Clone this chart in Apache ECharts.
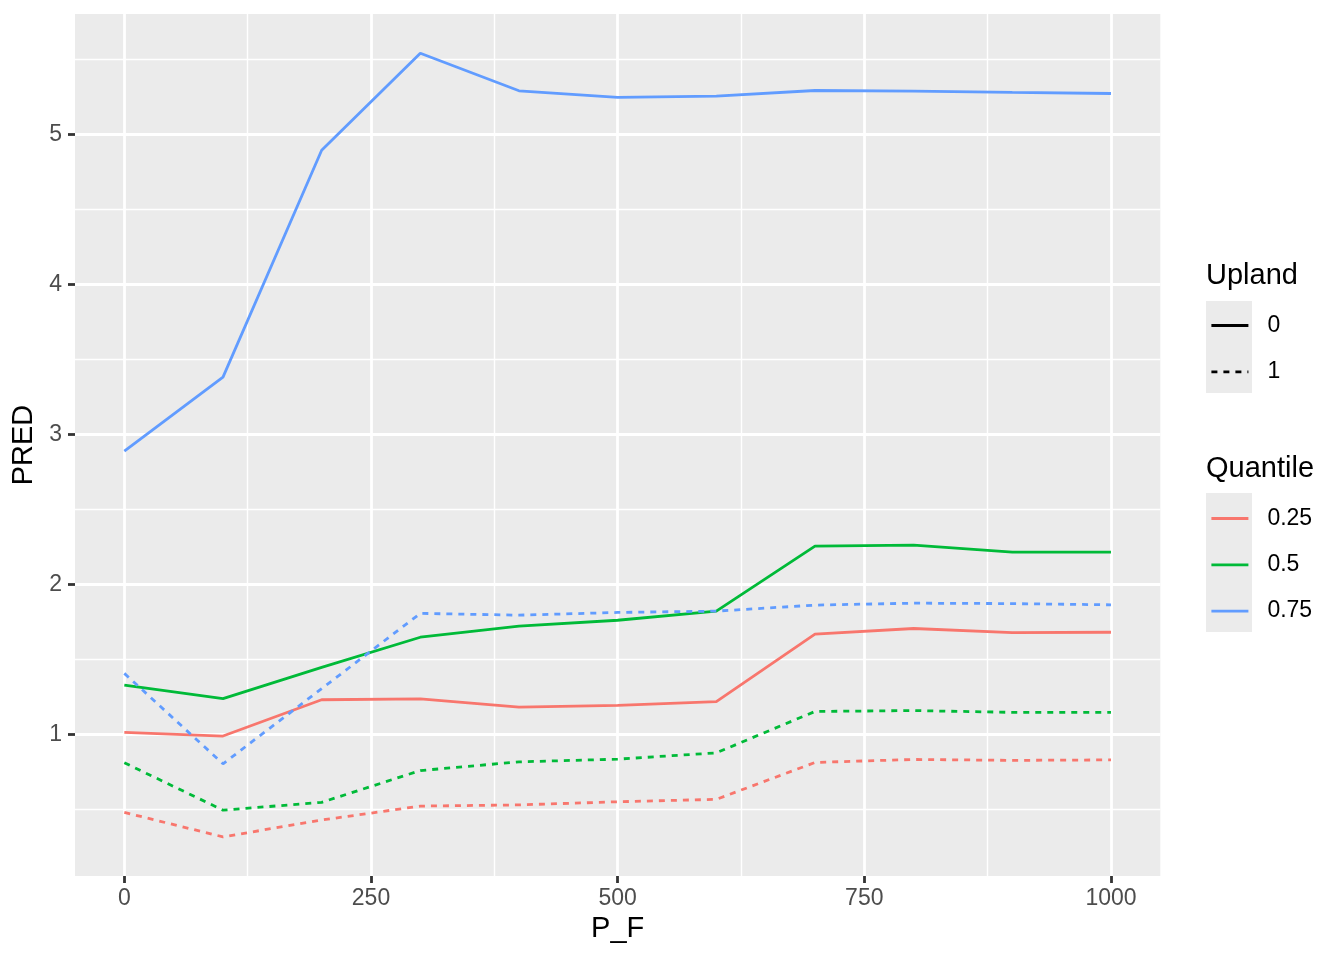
<!DOCTYPE html>
<html>
<head>
<meta charset="utf-8">
<script src="https://cdn.jsdelivr.net/npm/echarts@6/dist/echarts.min.js"></script>
<style>
html,body{margin:0;padding:0;background:#fff;}
#chart{width:1344px;height:960px;}
</style>
</head>
<body>
<div id="chart"></div>
<script>
// ---- data ----
const P_F = [0, 100, 200, 300, 400, 500, 600, 700, 800, 900, 1000];
const quantiles = ['0.25', '0.5', '0.75'];
const uplands = ['0', '1'];
// Upland = 0 (solid)
const q25_u0 = [1.013, 0.989, 1.231, 1.237, 1.182, 1.194, 1.219, 1.669, 1.706, 1.679, 1.681];
const q50_u0 = [1.328, 1.239, 1.447, 1.648, 1.722, 1.761, 1.822, 2.255, 2.262, 2.215, 2.215];
const q75_u0 = [2.889, 3.382, 4.895, 5.541, 5.291, 5.247, 5.255, 5.293, 5.289, 5.280, 5.273];
// Upland = 1 (dashed)
const q25_u1 = [0.480, 0.317, 0.429, 0.522, 0.530, 0.551, 0.567, 0.813, 0.833, 0.827, 0.830];
const q50_u1 = [0.811, 0.495, 0.547, 0.759, 0.817, 0.835, 0.877, 1.153, 1.159, 1.147, 1.147];
const q75_u1 = [1.407, 0.804, 1.305, 1.807, 1.795, 1.813, 1.822, 1.862, 1.875, 1.872, 1.864];

const xTicks = [0, 250, 500, 750, 1000];
const xMinor = [125, 375, 625, 875];
const yTicks = [1, 2, 3, 4, 5];
const yMinor = [0.5, 1.5, 2.5, 3.5, 4.5, 5.5];
const xRange = [-50, 1050];
const yRange = [0.056, 5.803];

const colors = {'0.25': '#F8766D', '0.5': '#00BA38', '0.75': '#619CFF'};
const dash = [6, 6];
const LW = 2.8;
const FONT = '"Liberation Sans", Arial, Helvetica, sans-serif';

function pairs(vals) { return P_F.map((x, i) => [x, vals[i]]); }

const solidSets = [q25_u0, q50_u0, q75_u0];
const dashedSets = [q25_u1, q50_u1, q75_u1];

const series = [];
quantiles.forEach((q, i) => {
  series.push({
    name: q, type: 'line', data: pairs(solidSets[i]), symbol: 'none',
    color: colors[q], lineStyle: {width: LW, color: colors[q], type: 'solid'},
    z: 3, silent: true
  });
});
quantiles.forEach((q, i) => {
  series.push({
    name: q, type: 'line', data: pairs(dashedSets[i]), symbol: 'none',
    color: colors[q], lineStyle: {width: LW, color: colors[q], type: dash},
    z: 3, silent: true
  });
});
// legend-only series for Upland linetype
uplands.forEach((u, i) => {
  series.push({
    name: u, type: 'line', data: [], symbol: 'none', color: '#000',
    lineStyle: {width: LW, color: '#000', type: i === 0 ? 'solid' : dash}
  });
});

const tickLabelStyle = {color: '#4D4D4D', fontSize: 23, fontFamily: FONT};
const plainNum = v => String(v);

const legendCommon = {
  orient: 'vertical', left: 1210, padding: 0,
  itemWidth: 37, itemHeight: 23, itemGap: 23.3, selectedMode: false,
  itemStyle: {opacity: 0, borderWidth: 0},
  lineStyle: {width: LW},
  textStyle: {color: '#000', fontSize: 23, fontFamily: FONT, padding: [0, 0, 0, 14]}
};

const option = {
  animation: false,
  backgroundColor: '#FFFFFF',
  grid: {left: 75, top: 14, right: 183.7, bottom: 84, containLabel: false, outerBoundsMode: 'none',
         show: true, backgroundColor: '#EBEBEB', borderWidth: 0},
  xAxis: [
    {type: 'value', min: xRange[0], max: xRange[1], position: 'bottom',
     name: 'P_F', nameLocation: 'middle', nameGap: 37,
     nameTextStyle: {color: '#000', fontSize: 29, fontFamily: FONT},
     axisLine: {show: false, onZero: false},
     axisTick: {show: true, length: 7, customValues: xTicks, lineStyle: {color: '#333333', width: LW}},
     axisLabel: Object.assign({customValues: xTicks, margin: 11, formatter: plainNum}, tickLabelStyle),
     splitLine: {show: true, lineStyle: {color: '#FFFFFF', width: LW}}},
    {type: 'value', min: xRange[0], max: xRange[1], position: 'bottom',
     axisLine: {show: false, onZero: false}, axisLabel: {show: false},
     axisTick: {show: false, customValues: xMinor},
     splitLine: {show: true, lineStyle: {color: '#FFFFFF', width: 1.4}}}
  ],
  yAxis: [
    {type: 'value', min: yRange[0], max: yRange[1], position: 'left',
     name: 'PRED', nameLocation: 'middle', nameGap: 36, nameRotate: 90,
     nameTextStyle: {color: '#000', fontSize: 29, fontFamily: FONT},
     axisLine: {show: false, onZero: false},
     axisTick: {show: true, length: 7, customValues: yTicks, lineStyle: {color: '#333333', width: LW}},
     axisLabel: Object.assign({customValues: yTicks, margin: 13, formatter: plainNum}, tickLabelStyle),
     splitLine: {show: true, lineStyle: {color: '#FFFFFF', width: LW}}},
    {type: 'value', min: yRange[0], max: yRange[1], position: 'left',
     axisLine: {show: false, onZero: false}, axisLabel: {show: false},
     axisTick: {show: false, customValues: yMinor},
     splitLine: {show: true, lineStyle: {color: '#FFFFFF', width: 1.4}}}
  ],
  title: [
    {text: 'Upland', left: 1206, top: 261.5, padding: 0,
     textStyle: {color: '#000', fontSize: 29, fontWeight: 'normal', fontFamily: FONT}},
    {text: 'Quantile', left: 1206, top: 454.5, padding: 0,
     textStyle: {color: '#000', fontSize: 29, fontWeight: 'normal', fontFamily: FONT}}
  ],
  legend: [
    Object.assign({data: uplands, top: 314}, legendCommon),
    Object.assign({data: quantiles, top: 507}, legendCommon)
  ],
  graphic: [
    {type: 'rect', shape: {x: 1206, y: 301, width: 46, height: 92}, style: {fill: '#EBEBEB'}, z: -10, silent: true},
    {type: 'rect', shape: {x: 1206, y: 493, width: 46, height: 139}, style: {fill: '#EBEBEB'}, z: -10, silent: true}
  ],
  series: series
};

const chart = echarts.init(document.getElementById('chart'), null, {renderer: 'canvas'});
chart.setOption(option);
</script>
</body>
</html>
